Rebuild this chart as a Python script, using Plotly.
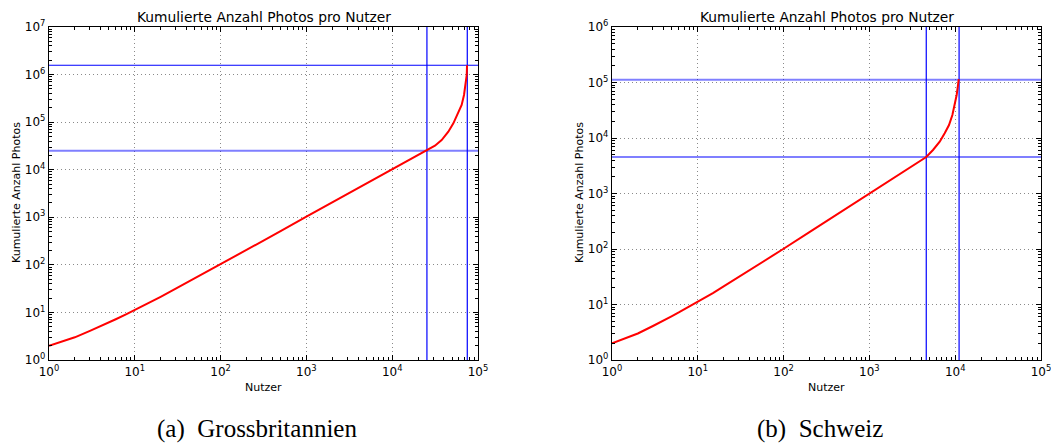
import plotly.graph_objects as go

# ---- data -----------------------------------------------------------------
gb_users = [1, 2, 3, 4, 5, 6, 8, 10, 15, 20, 30, 50, 100, 200, 500, 1000, 2000, 5000, 10000,
            20000, 25400, 31500, 37700, 45100, 51600, 58900, 64500, 68700, 71900, 73900, 74500]
gb_photos = [2, 3, 4.1, 5.1, 6.2, 7.2, 9.2, 11.2, 16.2, 21.3, 31.5, 52, 103, 205, 510, 1030,
             2050, 5050, 10000, 19800, 25100, 32000, 42100, 63000, 94500, 153000, 229000,
             372000, 604000, 980000, 1570000]

ch_users = [1, 2, 3, 4, 5, 6, 8, 10, 15, 20, 30, 50, 100, 200, 500, 1000, 2000, 4600, 5510,
            6600, 7540, 8470, 9270, 9860, 10400, 10780, 10990]
ch_photos = [2, 3, 4.1, 5.1, 6.2, 7.2, 9.2, 11, 16.1, 21.2, 31.3, 51.5, 101, 202, 505, 1010,
             2010, 4550, 6080, 8570, 12200, 17100, 25900, 39300, 59600, 90100, 115000]

# reference lines: (vertical x values), (horizontal y values)
gb_vlines = [25400, 75000]
gb_hlines = [1570000, 25100]
gb_hline_light = [False, True]
ch_vlines = [4600, 11100]
ch_hlines = [112000, 4550]
ch_hline_light = [True, False]

gb_ymax_exp = 7
ch_ymax_exp = 6
x_max_exp = 5

title_text = "Kumulierte Anzahl Photos pro Nutzer"
xlabel = "Nutzer"
ylabel = "Kumulierte Anzahl Photos"
captions = ["(a)  Grossbritannien", "(b)  Schweiz"]

# ---- figure ---------------------------------------------------------------
W, H = 1051, 444
fig = go.Figure()

panels = [
    dict(x=gb_users, y=gb_photos, v=gb_vlines, h=gb_hlines, hl=gb_hline_light,
         ymax=gb_ymax_exp, xa="x", ya="y", dom=[49 / W, 478 / W], ylab_x=16 / W),
    dict(x=ch_users, y=ch_photos, v=ch_vlines, h=ch_hlines, hl=ch_hline_light,
         ymax=ch_ymax_exp, xa="x2", ya="y2", dom=[612 / W, 1041 / W], ylab_x=579 / W),
]

ydom = [1 - 360 / H, 1 - 27 / H]
font_family = "DejaVu Sans, Arial, sans-serif"

layout_axes = {}
annotations = []
for i, p in enumerate(panels):
    xa, ya = p["xa"], p["ya"]
    ymax = 10 ** p["ymax"]
    xmax = 10 ** x_max_exp
    # reference lines
    for xv in p["v"]:
        fig.add_trace(go.Scatter(x=[xv, xv], y=[1, ymax], mode="lines",
                                 line=dict(color="#0000ff", width=1.2),
                                 xaxis=xa, yaxis=ya, showlegend=False, hoverinfo="skip"))
    for yv, light in zip(p["h"], p["hl"]):
        fig.add_trace(go.Scatter(x=[1, xmax], y=[yv, yv], mode="lines",
                                 line=dict(color="rgba(0,0,255,0.5)" if light else "#0000ff",
                                           width=2 if light else 1.2),
                                 xaxis=xa, yaxis=ya, showlegend=False, hoverinfo="skip"))
    # curve
    fig.add_trace(go.Scatter(x=p["x"], y=p["y"], mode="lines",
                             line=dict(color="#ff0000", width=2),
                             xaxis=xa, yaxis=ya, showlegend=False))

    xname = "xaxis" if i == 0 else "xaxis2"
    yname = "yaxis" if i == 0 else "yaxis2"
    xt = [10 ** e for e in range(0, x_max_exp + 1)]
    yt = [10 ** e for e in range(0, p["ymax"] + 1)]
    common = dict(type="log", showline=True, linecolor="black", linewidth=1.3,
                  mirror="ticks", ticks="inside", ticklen=5, tickcolor="black",
                  showgrid=True, gridcolor="#8a8a8a", griddash="1px,3px", gridwidth=1,
                  zeroline=False, automargin=False, ticklabeloverflow="allow",
                  tickfont=dict(family=font_family, size=12, color="black"),
                  tickmode="array",
                  minor=dict(dtick="D1", ticks="inside", ticklen=2.5, tickcolor="black",
                             showgrid=False))
    layout_axes[xname] = dict(common, domain=p["dom"], anchor=ya,
                              range=[0, x_max_exp], tickvals=xt,
                              ticktext=[f"10<sup>{e}</sup>" for e in range(0, x_max_exp + 1)])
    layout_axes[yname] = dict(common, domain=ydom, anchor=xa,
                              range=[0, p["ymax"]], tickvals=yt,
                              ticktext=[f"10<sup>{e}</sup>" for e in range(0, p["ymax"] + 1)])

    cx = (p["dom"][0] + p["dom"][1]) / 2
    annotations.append(dict(text=title_text, x=cx, y=1 - 17 / H, xref="paper", yref="paper",
                            xanchor="center", yanchor="middle", showarrow=False,
                            font=dict(family=font_family, size=13.8, color="black")))
    annotations.append(dict(text=xlabel, x=cx, y=1 - 387 / H, xref="paper", yref="paper",
                            xanchor="center", yanchor="middle", showarrow=False,
                            font=dict(family=font_family, size=11, color="black")))
    annotations.append(dict(text=ylabel, x=p["ylab_x"], y=1 - 193 / H, xref="paper",
                            yref="paper", xanchor="center", yanchor="middle", showarrow=False,
                            textangle=-90,
                            font=dict(family=font_family, size=11, color="black")))

capx = [257 / W, 820 / W]
for cx, cap in zip(capx, captions):
    annotations.append(dict(text=cap, x=cx, y=1 - 429 / H, xref="paper", yref="paper",
                            xanchor="center", yanchor="middle", showarrow=False,
                            font=dict(family="Liberation Serif, DejaVu Serif, serif",
                                      size=25, color="black")))

fig.update_layout(width=W, height=H, margin=dict(l=0, r=0, t=0, b=0),
                  paper_bgcolor="white", plot_bgcolor="white",
                  annotations=annotations, **layout_axes)

fig.write_html("out.html", config={"displayModeBar": False},
               post_script="document.body.style.margin='0';document.body.style.overflow='hidden';")
